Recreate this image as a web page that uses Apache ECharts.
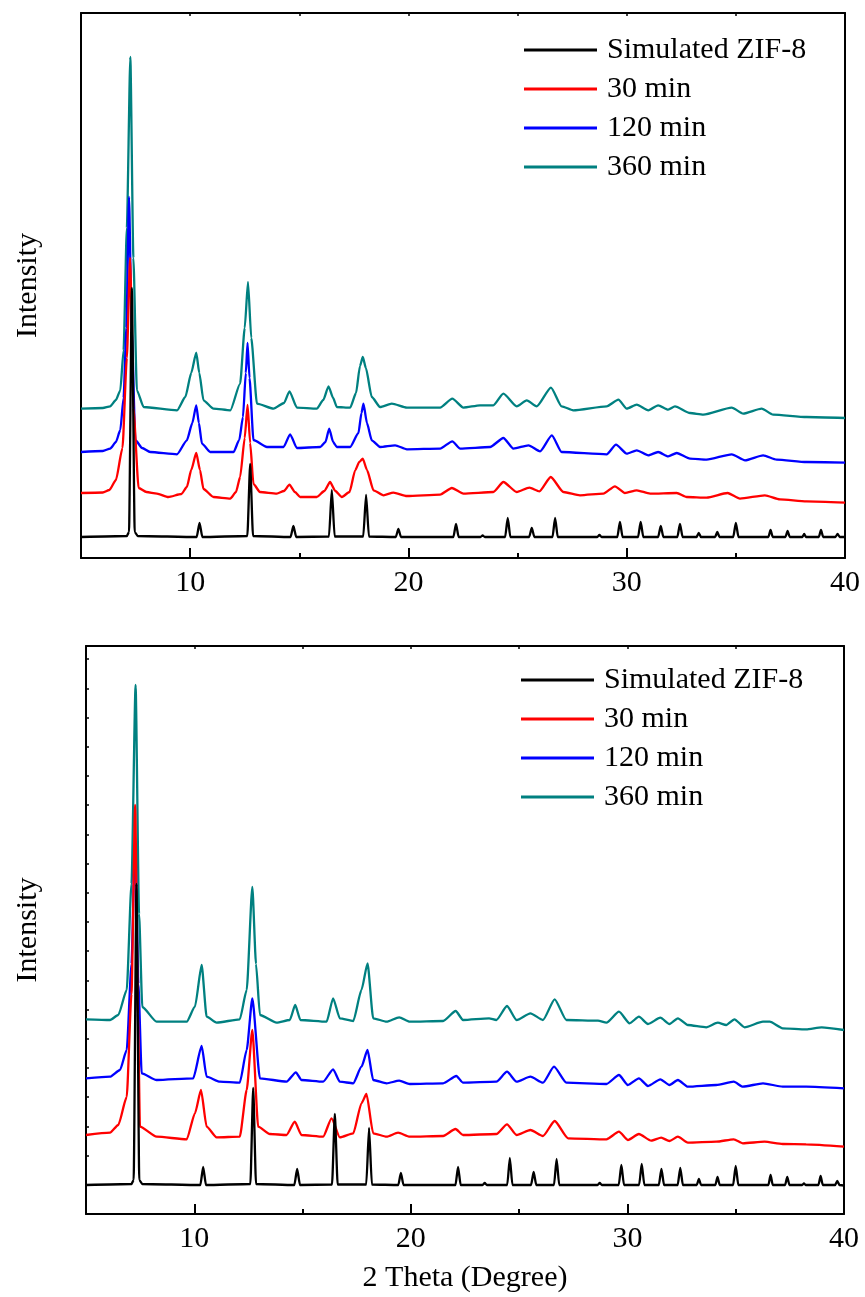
<!DOCTYPE html>
<html>
<head>
<meta charset="utf-8">
<script src="https://cdn.jsdelivr.net/npm/echarts@6/dist/echarts.min.js"></script>
<style>html,body{margin:0;padding:0;background:#fff;}#c{width:865px;height:1297px;}</style>
</head>
<body>
<div id="c"></div>
<script>
// ---------- DATA (2θ in degrees, intensity in arbitrary units incl. stacking offset) ----------
const seriesNames = ['Simulated ZIF-8', '30 min', '120 min', '360 min'];
const xLabelTicks = [10, 20, 30, 40];
const xMinorTicks = [15, 25, 35];
const xTopTicks = [10, 15, 20, 25, 30, 35];

// Top panel
const topSim = [[5,21],[7.1,22],[7.2,26],[7.33,270],[7.46,26],[7.6,22],
 [10.3,21],[10.43,35],[10.56,21],[12.62,22],[12.75,94],[12.88,22],
 [14.6,21],[14.73,32],[14.86,21],[16.36,21.5],[16.49,68],[16.62,21.5],
 [17.93,21.5],[18.06,63],[18.19,21.5],[19.42,21],[19.54,29],[19.66,21],
 [22.06,21],[22.18,34],[22.3,21],[23.3,21],[23.4,22.5],[23.5,21],
 [24.43,21],[24.55,40],[24.67,21],[25.53,21],[25.65,30],[25.77,21],
 [26.6,21],[26.72,40],[26.84,21],[28.65,21],[28.75,23],[28.85,21],
 [29.57,21],[29.69,36],[29.81,21],[30.52,21],[30.64,36],[30.76,21],
 [31.44,21],[31.56,32],[31.68,21],[32.32,21],[32.44,34],[32.56,21],
 [33.2,21],[33.3,25],[33.4,21],[34.05,21],[34.15,26],[34.25,21],
 [34.88,21],[35.0,35],[35.12,21],[36.49,21],[36.59,28],[36.69,21],
 [37.27,21],[37.37,27],[37.47,21],[38.05,21],[38.13,24],[38.21,21],
 [38.8,21],[38.9,28],[39.0,21],[39.56,21],[39.66,24],[39.76,21],[40,21]];
const top30 = [[5,65],[6.0,65.5],[6.3,68],[6.6,78],[6.9,110],[7.1,200],[7.25,300],[7.4,150],[7.64,70],[8.0,66],[8.48,64.4],[9.0,61],[9.6,64],[9.85,71],[10.05,88],[10.28,105],[10.45,88],[10.61,69],[11.07,61],[11.84,59.4],[12.1,66],[12.29,81],[12.5,120],[12.63,153],[12.75,115],[12.9,74],[13.2,66],[13.97,64.4],[14.3,67],[14.55,73.4],[14.8,66],[15.04,61],[15.8,61],[16.15,67],[16.41,76],[16.65,67],[16.95,61],[17.3,66],[17.56,87.7],[17.75,96],[17.91,99.4],[18.1,88],[18.4,67.7],[18.86,62.7],[19.31,65.4],[19.93,62],[21.45,63.4],[21.99,70],[22.52,64.4],[23.89,66],[24.35,76],[24.96,66],[25.54,70.4],[26.0,66.7],[26.52,81],[27.1,66],[27.86,62.7],[28.93,64.4],[29.46,71.7],[29.92,65],[30.46,67.7],[31.07,64.4],[32.29,65],[32.75,61],[33.66,60.4],[34.62,65],[35.19,59.4],[36.33,62.7],[37.02,58.7],[38.24,56.7],[40,55.4]];
const top120 = [[5,106],[6.0,107],[6.34,109.4],[6.6,116],[6.8,128],[6.95,160],[7.08,230],[7.2,361],[7.32,230],[7.49,118],[7.8,110],[8.17,106],[9.4,103.7],[9.85,117.7],[10.1,135],[10.28,152.7],[10.4,135],[10.54,114.4],[10.92,106],[11.99,106],[12.25,118],[12.42,141],[12.55,185],[12.63,215],[12.72,180],[12.9,118],[13.52,111],[14.28,111],[14.58,123.7],[14.89,110],[15.96,111],[16.2,116],[16.37,129.4],[16.55,116],[16.72,111],[17.33,111],[17.71,125],[17.85,145],[17.94,154.4],[18.1,135],[18.32,117.7],[18.7,111],[19.39,112.7],[19.93,108.7],[21.45,109.4],[22.01,116.7],[22.37,109.4],[23.74,111],[24.35,120],[24.81,109.4],[25.5,112.7],[26.03,106.7],[26.57,122.7],[27.02,106],[29.08,103.7],[29.51,113.4],[30.0,104.4],[30.46,107.7],[30.99,102.7],[31.44,106],[31.9,101.7],[32.29,105],[32.9,99.4],[33.66,98.4],[34.81,103.7],[35.42,97.7],[36.25,102.7],[36.87,98.4],[38.24,96],[40,95.4]];
const top360 = [[5,149.4],[6.0,150],[6.34,151.7],[6.6,158],[6.8,167.7],[6.95,207.7],[7.1,330],[7.26,501],[7.4,300],[7.56,167.7],[7.87,151],[9.4,147.7],[9.78,161],[10.05,185],[10.28,205.4],[10.42,185],[10.61,157.7],[11.07,149.4],[11.84,147.7],[12.29,174.4],[12.5,230],[12.65,276],[12.8,220],[13.06,154.4],[13.82,149.4],[14.3,155],[14.55,166.7],[14.89,150.4],[15.8,149.4],[16.1,158],[16.34,171.7],[16.55,160],[16.72,151],[17.33,150.4],[17.6,165],[17.78,192],[17.91,201],[18.05,190],[18.32,161],[18.7,151],[19.24,154.4],[19.93,150.4],[21.45,150.4],[22.01,159.4],[22.52,150.4],[23.28,152.7],[23.89,152.7],[24.35,164.4],[24.96,151.7],[25.42,157.7],[25.88,151.7],[26.53,170.4],[27.02,151.7],[27.55,147.7],[29.08,151.7],[29.62,158.4],[30.0,149.4],[30.46,153.4],[30.99,147.7],[31.44,152.7],[31.9,148.4],[32.21,151.7],[32.9,145],[33.51,143.4],[34.81,150.4],[35.34,144.4],[36.18,149.4],[36.71,143.4],[38.24,141],[40,140]];

// Bottom panel
const botSim = [[5,29],[7.1,30],[7.2,34],[7.33,330],[7.46,34],[7.6,30],
 [10.28,29],[10.41,47],[10.54,29],[12.59,30],[12.72,126],[12.85,30],
 [14.62,29],[14.75,45],[14.88,29],[16.36,29.5],[16.49,100],[16.62,29.5],
 [17.94,29.5],[18.07,86],[18.2,29.5],[19.42,29],[19.54,41],[19.66,29],
 [22.06,29],[22.18,47],[22.3,29],[23.31,29],[23.41,31],[23.51,29],
 [24.45,29],[24.57,56],[24.69,29],[25.55,29],[25.67,42],[25.79,29],
 [26.61,29],[26.73,55],[26.85,29],[28.62,29],[28.72,31],[28.82,29],
 [29.6,29],[29.72,49],[29.84,29],[30.54,29],[30.66,50],[30.78,29],
 [31.45,29],[31.57,45],[31.69,29],[32.32,29],[32.44,46],[32.56,29],
 [33.2,29],[33.3,35],[33.4,29],[34.06,29],[34.16,37],[34.26,29],
 [34.88,29],[35.0,48],[35.12,29],[36.51,29],[36.61,39],[36.71,29],
 [37.28,29],[37.38,37],[37.48,29],[38.07,29],[38.15,30.5],[38.23,29],
 [38.82,29],[38.92,38],[39.02,29],[39.59,29],[39.69,33],[39.79,29],[40,28.5]];
const bot30 = [[5,79],[6.11,81.3],[6.49,89],[6.88,117],[7.1,220],[7.27,409],[7.4,200],[7.49,87.3],[8.26,77.3],[9.65,74.7],[10.03,100.7],[10.31,124],[10.57,87.3],[11.03,76.7],[12.1,77.3],[12.42,124],[12.68,184],[12.95,87.3],[13.49,80],[14.26,79],[14.64,92.3],[14.95,79],[15.95,77.3],[16.34,95.7],[16.72,76.7],[17.34,80.7],[17.72,110.7],[17.95,120],[18.26,80.7],[18.88,77.3],[19.41,81.3],[19.95,77.3],[21.49,78],[22.06,85],[22.41,79],[23.95,80],[24.44,89.7],[24.88,79],[25.52,84],[26.1,78],[26.64,93],[27.26,75.7],[29.03,74.7],[29.61,82.3],[30.02,74],[30.53,80],[31.1,73.3],[31.56,76.3],[31.94,73],[32.33,77.3],[32.79,71.3],[34.1,72.3],[34.91,74.7],[35.33,70.7],[36.33,72.3],[37.17,70],[38.25,69.7],[40,67.3]];
const bot120 = [[5,135.7],[6.11,137.3],[6.57,144],[6.88,164],[7.1,250],[7.27,376],[7.42,230],[7.57,140.7],[8.26,134],[9.95,135.7],[10.34,168],[10.57,137.3],[11.18,132.3],[12.1,131.3],[12.42,164],[12.68,215.7],[13.03,135.7],[14.26,132.3],[14.69,141.7],[14.95,134],[15.95,132.3],[16.41,144.7],[16.72,132.3],[17.34,130.7],[17.72,147.3],[18.0,164],[18.26,134],[18.88,130.7],[19.46,133.3],[19.95,130],[21.49,130.7],[22.1,138],[22.41,131.3],[23.95,132.3],[24.44,142.3],[24.88,132.3],[25.52,137.3],[26.1,131.3],[26.61,147.3],[27.18,131.3],[29.03,130],[29.61,139],[30.02,129],[30.53,135.7],[30.95,128],[31.52,134.7],[31.94,129],[32.33,134],[32.79,127.3],[34.1,129],[34.91,132.3],[35.33,127.3],[36.26,130.7],[37.17,127.3],[38.25,127.3],[40,125.7]];
const bot360 = [[5,194.7],[6.11,194],[6.49,199],[6.88,224],[7.1,330],[7.29,529],[7.45,300],[7.6,207],[8.26,192.3],[9.65,192.3],[10.03,207.3],[10.34,249],[10.57,197.3],[11.03,191.3],[12.1,194.7],[12.42,224],[12.68,327],[12.85,250],[13.03,199],[13.8,191.3],[14.41,194],[14.66,209],[14.9,194],[16.11,192.3],[16.41,215.7],[16.72,195.7],[17.34,193],[17.72,224],[18.0,250.7],[18.26,195.7],[18.88,192.3],[19.46,196.7],[19.95,192.3],[21.49,193],[22.07,203],[22.41,194],[23.61,195.7],[23.95,194],[24.44,208],[24.88,194],[25.52,200.7],[26.1,194],[26.64,214.7],[27.18,194],[28.64,193.3],[29.03,191.3],[29.61,202.3],[30.1,190.7],[30.53,197.3],[30.95,190],[31.52,196.3],[31.94,190],[32.33,195.7],[32.79,189],[33.64,186.7],[34.17,191.3],[34.56,189],[34.94,194.7],[35.41,186.7],[36.26,192.3],[36.57,192.3],[37.17,185.7],[38.25,184.7],[38.97,186.7],[40,184]];

// ---------- CHART ----------
const FONT = 'Liberation Serif';
const colors = {'Simulated ZIF-8':'#000000','30 min':'#ff0000','120 min':'#0000ff','360 min':'#008080'};
const chart = echarts.init(document.getElementById('c'), null, {renderer:'canvas'});

function xAxes(grid){
  const line = {show:true, lineStyle:{color:'#000', width:2}};
  return [
    {gridIndex:grid, type:'value', min:5, max:40, position:'bottom', axisLine:line,
     axisTick:{show:true, inside:true, length:10, customValues:xLabelTicks, lineStyle:{color:'#000',width:2}},
     axisLabel:{show:true, customValues:xLabelTicks, fontFamily:FONT, fontSize:30, color:'#000', margin:10},
     splitLine:{show:false},
     name: grid===1 ? '2 Theta (Degree)' : '', nameLocation:'middle', nameGap:49,
     nameTextStyle:{fontFamily:FONT, fontSize:30, color:'#000'}},
    {gridIndex:grid, type:'value', min:5, max:40, position:'bottom', axisLine:{show:false},
     axisTick:{show:true, inside:true, length:5, customValues:xMinorTicks, lineStyle:{color:'#000',width:2}},
     axisLabel:{show:false}, splitLine:{show:false}},
    {gridIndex:grid, type:'value', min:5, max:40, position:'top', axisLine:line,
     axisTick:{show:true, inside:true, length:3, customValues:xTopTicks, lineStyle:{color:'#000',width:1.5}},
     axisLabel:{show:false}, splitLine:{show:false}}
  ];
}
function yAxes(grid, maxV, ticks, gap){
  return [
    {gridIndex:grid, type:'value', min:0, max:maxV, position:'left', interval: ticks ? 29.2 : null,
     axisLine:{show:true, lineStyle:{color:'#000', width:2}},
     axisTick:{show:ticks, inside:true, length:3, lineStyle:{color:'#000',width:1.5}},
     axisLabel:{show:false}, splitLine:{show:false},
     name:'Intensity', nameLocation:'middle', nameGap:gap, nameRotate:90,
     nameTextStyle:{fontFamily:FONT, fontSize:30, color:'#000'}},
    {gridIndex:grid, type:'value', min:0, max:maxV, position:'right',
     axisLine:{show:true, lineStyle:{color:'#000', width:2}},
     axisTick:{show:false}, axisLabel:{show:false}, splitLine:{show:false}}
  ];
}
function mkSeries(name, data, grid){
  return {name:name, type:'line', data:data, xAxisIndex:grid*3, yAxisIndex:grid*2,
    symbol:'none', showSymbol:false, smooth:0.2, smoothMonotone:'x',
    lineStyle:{color:colors[name], width:2.3}, itemStyle:{color:colors[name]},
    z: name==='Simulated ZIF-8' ? 5 : (name==='30 min' ? 4 : (name==='120 min' ? 3 : 2))};
}
const legendBase = {orient:'vertical', data:seriesNames, icon:'rect', itemWidth:73, itemHeight:3, itemGap:9,
  textStyle:{fontFamily:FONT, fontSize:30, color:'#000', lineHeight:30, padding:[0,0,0,5]},
  selectedMode:false};

chart.setOption({
  animation:false,
  backgroundColor:'#fff',
  grid:[{left:81, right:20, top:13, height:545},{left:86, right:21, top:646, height:568}],
  xAxis:[...xAxes(0), ...xAxes(1)],
  yAxis:[...yAxes(0, 545, false, 38), ...yAxes(1, 568, true, 43)],
  legend:[Object.assign({left:519, top:30}, legendBase), Object.assign({left:516, top:660}, legendBase)],
  series:[
    mkSeries('360 min', top360, 0), mkSeries('120 min', top120, 0), mkSeries('30 min', top30, 0), mkSeries('Simulated ZIF-8', topSim, 0),
    mkSeries('360 min', bot360, 1), mkSeries('120 min', bot120, 1), mkSeries('30 min', bot30, 1), mkSeries('Simulated ZIF-8', botSim, 1)
  ]
});
</script>
</body>
</html>
